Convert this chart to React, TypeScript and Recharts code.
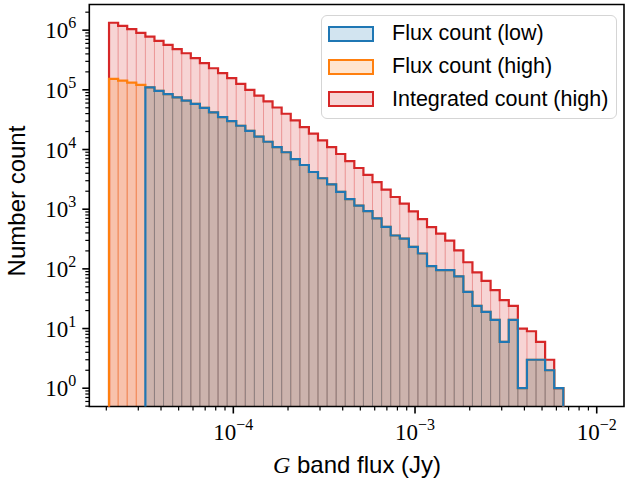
import React from "react";
import { ComposedChart, XAxis, YAxis, Line, ReferenceArea } from "recharts";

// bin edges of the G band flux histogram (Jy), 20 bins per decade
const binEdges = [
  2.07e-5, 2.323e-5, 2.606e-5, 2.924e-5, 3.281e-5, 3.681e-5, 4.13e-5, 4.634e-5, 5.2e-5, 5.834e-5,
  6.546e-5, 7.345e-5, 8.241e-5, 9.247e-5, 1.0375e-4, 1.164e-4, 1.306e-4, 1.466e-4, 1.644e-4, 1.845e-4,
  2.07e-4, 2.323e-4, 2.606e-4, 2.924e-4, 3.281e-4, 3.681e-4, 4.13e-4, 4.634e-4, 5.2e-4, 5.834e-4,
  6.546e-4, 7.345e-4, 8.241e-4, 9.247e-4, 1.0375e-3, 1.164e-3, 1.306e-3, 1.466e-3, 1.644e-3, 1.845e-3,
  2.07e-3, 2.323e-3, 2.606e-3, 2.924e-3, 3.281e-3, 3.681e-3, 4.13e-3, 4.634e-3, 5.2e-3, 5.834e-3,
  6.546e-3,
];

const fluxLow = [
  null, null, null, null, 110000, 96000, 85000, 75000, 66000, 58000,
  50000, 42000, 35000, 30000, 25000, 20500, 16500, 13500, 11000, 9000,
  6900, 5500, 4200, 3300, 2600, 1950, 1470, 1150, 925, 700,
  505, 362, 322, 234, 181, 111, 95, 95, 75, 41,
  24, 19, 14, 6, 14, 1, 3, 3, 2, 1,
];

const fluxHigh = [
  153000, 143000, 132000, 121000, 110000, 96000, 85000, 75000, 66000, 58000,
  50000, 42000, 35000, 30000, 25000, 20500, 16500, 13500, 11000, 9000,
  6900, 5500, 4200, 3300, 2600, 1950, 1470, 1150, 925, 700,
  505, 362, 322, 234, 181, 111, 95, 95, 75, 41,
  24, 19, 14, 6, 14, 1, 3, 3, 2, 1,
];

const integratedHigh = [
  1330000, 1180000, 1040000, 900000, 780000, 660000, 565000, 480000, 410000, 339000,
  280000, 230000, 190000, 157000, 126000, 100000, 80000, 64000, 50600, 39700,
  30700, 23800, 18400, 14200, 11000, 8400, 6400, 4900, 3770, 2830,
  2120, 1600, 1240, 920, 680, 500, 390, 298, 204, 129,
  87, 63, 44, 30, 24, 10, 9, 6, 3, 1,
];

const xTicks = [
  2e-5, 3e-5, 4e-5, 5e-5, 6e-5, 7e-5, 8e-5, 9e-5,
  1e-4, 2e-4, 3e-4, 4e-4, 5e-4, 6e-4, 7e-4, 8e-4, 9e-4,
  1e-3, 2e-3, 3e-3, 4e-3, 5e-3, 6e-3, 7e-3, 8e-3, 9e-3, 1e-2,
];
const yTicks = [
  0.5, 0.6, 0.7, 0.8, 0.9,
  1, 2, 3, 4, 5, 6, 7, 8, 9,
  10, 20, 30, 40, 50, 60, 70, 80, 90,
  100, 200, 300, 400, 500, 600, 700, 800, 900,
  1e3, 2e3, 3e3, 4e3, 5e3, 6e3, 7e3, 8e3, 9e3,
  1e4, 2e4, 3e4, 4e4, 5e4, 6e4, 7e4, 8e4, 9e4,
  1e5, 2e5, 3e5, 4e5, 5e5, 6e5, 7e5, 8e5, 9e5,
  1e6, 2e6,
];

const X_DOMAIN = [1.612e-5, 1.413e-2];
const Y_DOMAIN = [0.494, 2.69e6];
const BASELINE = 0.1;

const series = [
  { key: "int", name: "Integrated count (high)", color: "#d62728", values: integratedHigh },
  { key: "high", name: "Flux count (high)", color: "#ff7f0e", values: fluxHigh },
  { key: "low", name: "Flux count (low)", color: "#1f77b4", values: fluxLow },
];
const legendOrder = ["low", "high", "int"];

const TICK_FONT = '"Liberation Serif", "DejaVu Serif", serif';
const SANS = '"Liberation Sans", Arial, sans-serif';

function stepPoints(values: (number | null)[]) {
  const pts: { x: number; y: number }[] = [];
  let last = 0;
  values.forEach((v, i) => {
    if (v == null) return;
    if (pts.length === 0) pts.push({ x: binEdges[i], y: BASELINE });
    pts.push({ x: binEdges[i], y: v });
    pts.push({ x: binEdges[i + 1], y: v });
    last = i + 1;
  });
  pts.push({ x: binEdges[last], y: BASELINE });
  return pts;
}

const isMajor = (v: number) => Math.abs(Math.log10(v) - Math.round(Math.log10(v))) < 1e-6;
const expLabel = (v: number) => {
  const e = Math.round(Math.log10(v));
  return e < 0 ? "\u2212" + Math.abs(e) : String(e);
};

const XTick = (props: any) => {
  const { x, y, payload } = props;
  const major = isMajor(payload.value);
  return (
    <g>
      <line x1={x} x2={x} y1={y} y2={y + (major ? 7 : 4)} stroke="#000" strokeWidth={major ? 1.6 : 1.2} />
      {major && (
        <text x={x} y={y + 33.5} textAnchor="middle" fontFamily={TICK_FONT} fontSize={23} fill="#000">
          10
          <tspan dy={-10} fontSize={16}>
            {expLabel(payload.value)}
          </tspan>
        </text>
      )}
    </g>
  );
};

const YTick = (props: any) => {
  const { x, y, payload } = props;
  const major = isMajor(payload.value);
  return (
    <g>
      <line x1={x} x2={x - (major ? 7 : 4)} y1={y} y2={y} stroke="#000" strokeWidth={major ? 1.6 : 1.2} />
      {major && (
        <text x={x - 13} y={y + 8} textAnchor="end" fontFamily={TICK_FONT} fontSize={23} fill="#000">
          10
          <tspan dy={-10} fontSize={16}>
            {expLabel(payload.value)}
          </tspan>
        </text>
      )}
    </g>
  );
};

const HistLegend = () => (
  <div
    style={{
      position: "absolute",
      left: 321,
      top: 15,
      boxSizing: "border-box",
      width: 296,
      height: 104,
      paddingTop: 1.7,
      border: "1.6px solid #d5d5d5",
      borderRadius: 6,
      background: "rgba(255,255,255,0.8)",
      fontFamily: SANS,
      fontSize: 21.5,
      color: "#000",
    }}
  >
    {legendOrder.map((k) => {
      const s = series.find((d) => d.key === k)!;
      return (
        <div key={k} style={{ height: 32.7, display: "flex", alignItems: "center" }}>
          <div
            style={{
              boxSizing: "border-box",
              marginLeft: 6,
              width: 46,
              height: 16,
              border: `2px solid ${s.color}`,
              background: s.color + "33",
            }}
          />
          <span style={{ marginLeft: 18, whiteSpace: "nowrap", lineHeight: 1 }}>{s.name}</span>
        </div>
      );
    })}
  </div>
);

export default function App() {
  return (
    <div style={{ position: "absolute", left: 0, top: 0, width: 626, height: 483, background: "#fff" }}>
      <ComposedChart width={626} height={483} margin={{ top: 4.5, right: 2, bottom: 0, left: 0 }}>
        <XAxis
          dataKey="x"
          type="number"
          scale="log"
          domain={X_DOMAIN}
          allowDataOverflow
          ticks={xTicks}
          interval={0}
          tick={<XTick />}
          tickLine={false}
          tickSize={0}
          tickMargin={0}
          axisLine={false}
          height={76.5}
        />
        <YAxis
          type="number"
          scale="log"
          domain={Y_DOMAIN}
          allowDataOverflow
          ticks={yTicks}
          interval={0}
          tick={<YTick />}
          tickLine={false}
          tickSize={0}
          tickMargin={0}
          axisLine={false}
          width={89.3}
        />
        {series.map((s) =>
          s.values.map((v, i) =>
            v == null ? null : (
              <ReferenceArea
                key={`${s.key}-${i}`}
                x1={binEdges[i]}
                x2={binEdges[i + 1]}
                y1={Y_DOMAIN[0]}
                y2={v}
                fill={s.color}
                fillOpacity={0.2}
                stroke={s.color}
                strokeOpacity={0.2}
                strokeWidth={1}
                ifOverflow="hidden"
              />
            )
          )
        )}
        {series.map((s) => (
          <Line
            key={s.key}
            data={stepPoints(s.values)}
            dataKey="y"
            name={s.name}
            type="linear"
            stroke={s.color}
            strokeWidth={2.2}
            strokeLinejoin="miter"
            dot={false}
            activeDot={false}
            isAnimationActive={false}
          />
        ))}
        <ReferenceArea
          x1={X_DOMAIN[0]}
          x2={X_DOMAIN[1]}
          y1={Y_DOMAIN[0]}
          y2={Y_DOMAIN[1]}
          fill="none"
          stroke="#000"
          strokeWidth={1.6}
          ifOverflow="visible"
        />
        <text
          x={25}
          y={201}
          transform="rotate(-90 25 201)"
          textAnchor="middle"
          fontFamily={SANS}
          fontSize={24}
          fill="#000"
        >
          Number count
        </text>
        <text x={357} y={473} textAnchor="middle" fontFamily={SANS} fontSize={24} fill="#000">
          <tspan fontFamily={TICK_FONT} fontStyle="italic">
            G
          </tspan>{" "}
          band flux (Jy)
        </text>
      </ComposedChart>
      <HistLegend />
    </div>
  );
}
